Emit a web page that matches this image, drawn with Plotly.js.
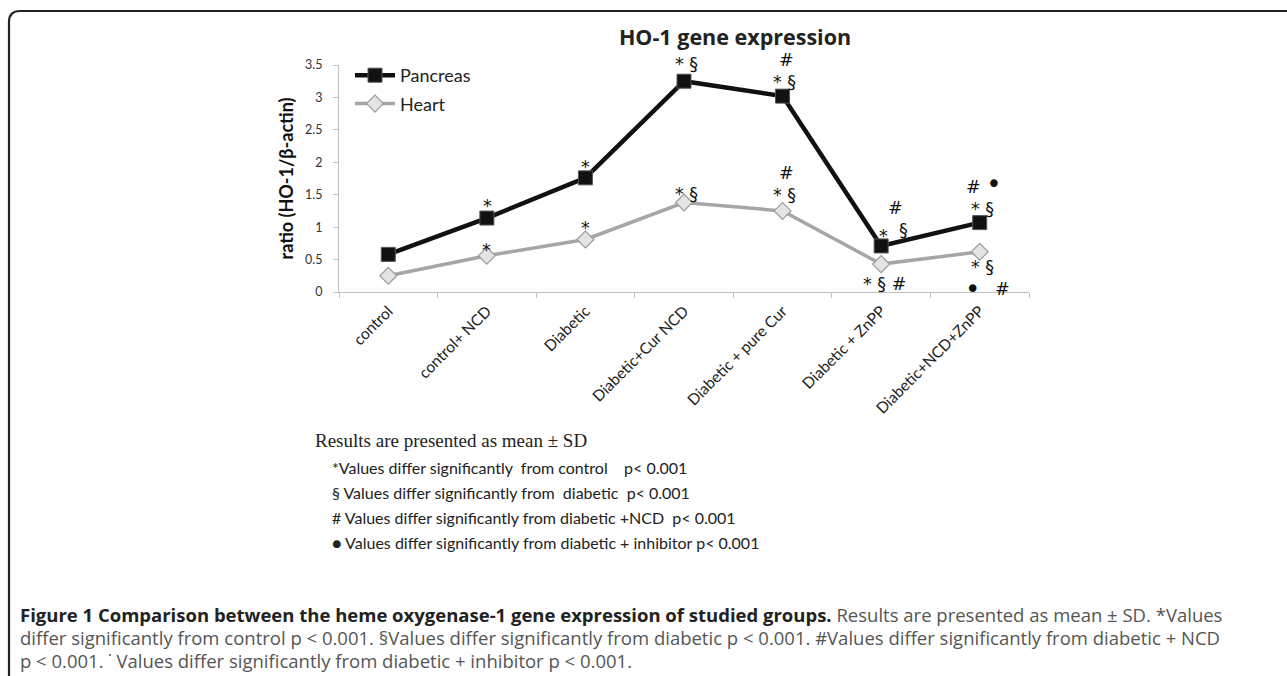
<!DOCTYPE html>
<html>
<head>
<meta charset="utf-8">
<script src="https://cdn.plot.ly/plotly-3.0.1.min.js"></script>
<style>html,body{margin:0;padding:0;background:#fff;}#chart{width:1287px;height:676px;}</style>
</head>
<body>
<div id="chart"></div>
<script>
// ---- data ----
var categories = ["control", "control+ NCD", "Diabetic", "Diabetic+Cur NCD", "Diabetic + pure Cur", "Diabetic + ZnPP", "Diabetic+NCD+ZnPP"];
var pancreas = [0.58, 1.14, 1.76, 3.25, 3.02, 0.71, 1.07];
var pancreasSD = [0.03, 0.04, 0.04, 0.04, 0.05, 0.03, 0.03];
var heart = [0.25, 0.56, 0.81, 1.38, 1.25, 0.43, 0.62];
var heartSD = [0.02, 0.03, 0.03, 0.04, 0.08, 0.03, 0.03];
var yTicks = [0, 0.5, 1, 1.5, 2, 2.5, 3, 3.5];
var yTickText = ["0", "0.5", "1", "1.5", "2", "2.5", "3", "3.5"];
var DOT = "<span style='font-size:26px'>\u2022</span>";
// significance marks: [series, category index, text, dx px, dy px (up)]
var sigMarks = [
  ["P", 1, "*", 1, 12],
  ["P", 2, "*", 0, 11],
  ["P", 3, "* \u00a7", 2, 17],
  ["P", 4, "#", 4, 36],
  ["P", 4, "* \u00a7", 2, 14],
  ["P", 5, "#", 14, 38],
  ["P", 5, "*", 2, 10],
  ["P", 5, "\u00a7", 22, 16],
  ["P", 6, "# " + DOT, 4, 39],
  ["P", 6, "* \u00a7", 3, 14],
  ["H", 1, "*", 0, 6],
  ["H", 2, "*", 0, 11],
  ["H", 3, "* \u00a7", 2, 9],
  ["H", 4, "#", 4, 38],
  ["H", 4, "* \u00a7", 2, 16],
  ["H", 5, "* \u00a7 #", 3, -20],
  ["H", 6, "* \u00a7", 3, -15],
  ["H", 6, DOT, -7, -37],
  ["H", 6, "#", 23, -37]
];
var notes = [
  "*Values differ significantly\u00a0\u00a0from control\u00a0\u00a0\u00a0\u00a0p< 0.001",
  "\u00a7 Values differ significantly from\u00a0\u00a0diabetic\u00a0\u00a0p< 0.001",
  "# Values differ significantly from diabetic +NCD\u00a0\u00a0p< 0.001",
  "\u25cf Values differ significantly from diabetic + inhibitor p< 0.001"
];

// ---- layout geometry ----
var W = 1287, H = 676;
var ML = 339, MR = 258, MT = 65, MB = 384;
var PW = W - ML - MR, PH = H - MT - MB;
function px(x) { return (x - ML) / PW; }
function py(y) { return (H - MB - y) / PH; }

var traces = [
  {
    x: categories, y: pancreas, name: "Pancreas", type: "scatter", mode: "lines+markers",
    line: {color: "#111111", width: 4.5},
    marker: {symbol: "square", size: 14, color: "#111111", line: {color: "#555", width: 1}},
    error_y: {type: "data", array: pancreasSD, visible: true, color: "#333", thickness: 1, width: 3},
    legendgroup: "a"
  },
  {
    x: categories, y: heart, name: "Heart", type: "scatter", mode: "lines+markers",
    line: {color: "#a6a6a6", width: 3.5},
    marker: {symbol: "diamond", size: 13, color: "#e4e4e4", line: {color: "#9a9a9a", width: 1.2}},
    error_y: {type: "data", array: heartSD, visible: true, color: "#666", thickness: 1, width: 3},
    legendgroup: "b"
  }
];

var annotations = [];
sigMarks.forEach(function (m) {
  annotations.push({
    x: categories[m[1]], y: (m[0] === "P" ? pancreas : heart)[m[1]],
    xref: "x", yref: "y", text: m[2], showarrow: false,
    xshift: m[3], yshift: m[4],
    font: {family: "'DejaVu Sans', sans-serif", size: 17.5, color: "#111"}
  });
});

annotations.push({
  x: px(313), y: py(440), xref: "paper", yref: "paper", xanchor: "left", yanchor: "middle",
  text: "Results are presented as mean \u00b1 SD", showarrow: false,
  font: {family: "'Liberation Serif', 'Times New Roman', serif", size: 19, color: "#222"}
});
notes.forEach(function (t, i) {
  annotations.push({
    x: px(330), y: py(467 + i * 25), xref: "paper", yref: "paper", xanchor: "left", yanchor: "middle",
    text: t, showarrow: false,
    font: {family: "Lato, 'Open Sans', sans-serif", size: 16, color: "#222"}
  });
});
var capFont = {family: "'Open Sans', sans-serif", size: 18.5, color: "#555"};
var caption = [
  "<b><span style='color:#222'>Figure 1 Comparison between the heme oxygenase-1 gene expression of studied groups.</span></b> Results are presented as mean \u00b1 SD. *Values",
  "differ significantly from control p < 0.001. \u00a7Values differ significantly from diabetic p < 0.001. #Values differ significantly from diabetic + NCD",
  "p < 0.001. \u02d9 Values differ significantly from diabetic + inhibitor p < 0.001."
];
caption.forEach(function (t, i) {
  annotations.push({
    x: px(18), y: py(615 + i * 22.5), xref: "paper", yref: "paper", xanchor: "left", yanchor: "middle",
    text: t, showarrow: false, font: capFont
  });
});

var shapes = [
  {type: "path", xref: "paper", yref: "paper",
   path: "M " + px(9) + "," + py(676) + " L " + px(9) + "," + py(22) +
         " Q " + px(9) + "," + py(11) + " " + px(20) + "," + py(11) +
         " L " + px(1287) + "," + py(11),
   line: {color: "#222", width: 2.2}}
];

var layout = {
  width: W, height: H,
  margin: {l: ML, r: MR, t: MT, b: MB, pad: 0},
  paper_bgcolor: "#fff", plot_bgcolor: "#fff",
  title: {text: "<b>HO-1 gene expression</b>", xref: "container", yref: "container",
          x: 735 / W, xanchor: "center", y: 1 - 37 / H, yanchor: "middle",
          font: {family: "'Open Sans', sans-serif", size: 21.5, color: "#222"}},
  showlegend: true,
  legend: {x: px(350), y: py(57), xanchor: "left", yanchor: "top", bgcolor: "rgba(0,0,0,0)",
           font: {family: "Lato, 'Open Sans', sans-serif", size: 18, color: "#222"},
           traceorder: "grouped", tracegroupgap: 2, itemwidth: 40},
  xaxis: {type: "category", tickson: "boundaries", ticks: "outside", ticklen: 5, tickcolor: "#bfbfbf",
          showline: true, linecolor: "#bfbfbf", linewidth: 1, showgrid: false, zeroline: false,
          tickangle: -45, range: [-0.5, 6.5], ticklabelstandoff: 3,
          tickfont: {family: "Lato, 'Open Sans', sans-serif", size: 15.5, color: "#222"}},
  yaxis: {range: [0, 3.5], tickvals: yTicks, ticktext: yTickText, ticks: "outside", ticklen: 5,
          tickcolor: "#bfbfbf", showline: true, linecolor: "#bfbfbf", linewidth: 1,
          showgrid: false, zeroline: false, ticklabelstandoff: 8,
          tickfont: {family: "Lato, 'Open Sans', sans-serif", size: 12.5, color: "#333"},
          title: {text: "<b>ratio (HO-1/\u03b2-actin)</b>", standoff: 6,
                  font: {family: "Lato, 'Open Sans', sans-serif", size: 18, color: "#111"}}},
  annotations: annotations,
  shapes: shapes
};

Plotly.newPlot("chart", traces, layout, {displayModeBar: false, staticPlot: true});
</script>
</body>
</html>
